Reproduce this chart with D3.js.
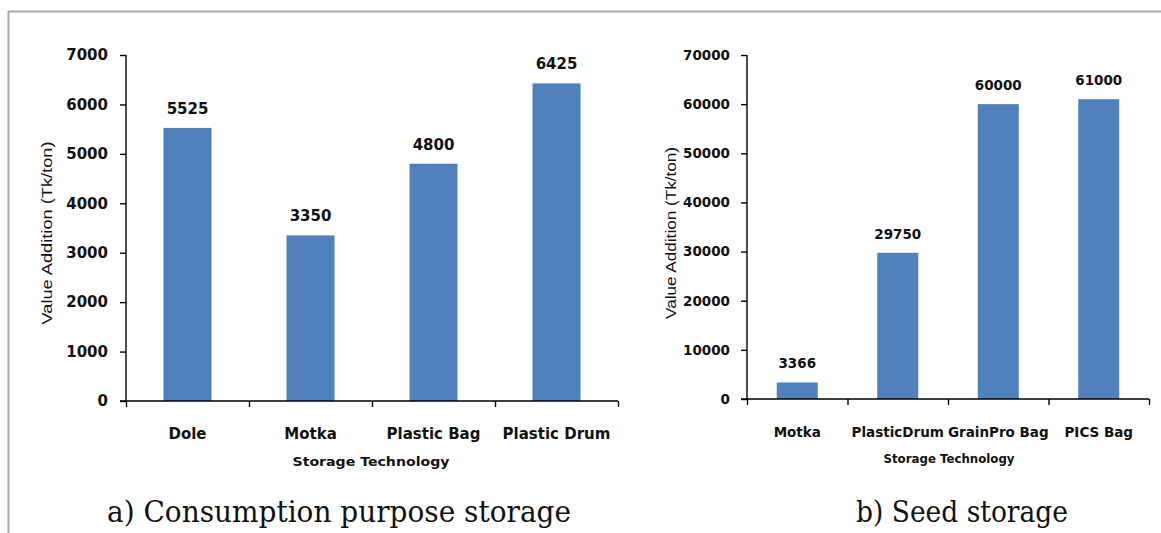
<!DOCTYPE html>
<html>
<head>
<meta charset="utf-8">
<script src="https://cdn.jsdelivr.net/npm/d3@7"></script>
<style>
  html, body { margin: 0; padding: 0; background: #fff; }
  svg { display: block; }
</style>
</head>
<body>
<svg id="chart" width="1161" height="533"></svg>
<script>
// ---- Data ----
const consumptionCategories = ["Dole", "Motka", "Plastic Bag", "Plastic Drum"];
const consumptionValues = [5525, 3350, 4800, 6425];
const consumptionTicks = [0, 1000, 2000, 3000, 4000, 5000, 6000, 7000];

const seedCategories = ["Motka", "PlasticDrum", "GrainPro Bag", "PICS Bag"];
const seedValues = [3366, 29750, 60000, 61000];
const seedTicks = [0, 10000, 20000, 30000, 40000, 50000, 60000, 70000];

const yTitle = "Value Addition (Tk/ton)";
const xTitle = "Storage Technology";
const captions = ["a) Consumption purpose storage", "b) Seed storage"];

const svg = d3.select("#chart");
const BAR = "#4F81BD";

// frame lines
svg.append("line").attr("x1", 8).attr("x2", 1161).attr("y1", 11.5).attr("y2", 11.5)
  .attr("stroke", "#aaaaaa").attr("stroke-width", 2);
svg.append("line").attr("x1", 8.5).attr("x2", 8.5).attr("y1", 11).attr("y2", 533)
  .attr("stroke", "#aaaaaa").attr("stroke-width", 2);

function drawPanel(cfg) {
  const g = svg.append("g");
  const x = d3.scaleBand().domain(cfg.categories).range([cfg.x0, cfg.x1]).paddingInner(0).paddingOuter(0);
  const xb = d3.scaleLinear().domain([0, cfg.categories.length]).range([cfg.x0, cfg.x1]);
  const y = d3.scaleLinear().domain([0, d3.max(cfg.ticks)]).range([cfg.y0, cfg.y1]);
  const font = "'DejaVu Sans', sans-serif";

  // bars
  g.selectAll("rect.bar").data(cfg.values).join("rect")
    .attr("class", "bar")
    .attr("x", (d, i) => x(cfg.categories[i]) + (x.bandwidth() - cfg.barW) / 2)
    .attr("width", cfg.barW)
    .attr("y", d => y(d))
    .attr("height", d => y(0) - y(d))
    .attr("fill", BAR);

  // data labels
  g.selectAll("text.val").data(cfg.values).join("text")
    .attr("class", "val")
    .attr("x", (d, i) => x(cfg.categories[i]) + x.bandwidth() / 2)
    .attr("y", d => y(d) - cfg.labelGap)
    .attr("text-anchor", "middle")
    .attr("font-family", font).attr("font-weight", "bold")
    .attr("font-size", cfg.fs).attr("fill", "#111")
    .text(d => d);

  // y axis
  const ya = g.append("g").attr("transform", `translate(${cfg.x0},0)`)
    .call(d3.axisLeft(y).tickValues(cfg.ticks).tickSize(6).tickPadding(cfg.tickPad).tickFormat(d3.format("d")));
  ya.select(".domain").attr("stroke", "#000").attr("stroke-width", 1.4).attr("d", `M0,${cfg.y1}V${cfg.y0}`);
  ya.selectAll(".tick line").attr("stroke", "#000").attr("stroke-width", 1.4);
  ya.selectAll(".tick text").attr("font-family", font).attr("font-weight", "bold")
    .attr("font-size", cfg.fs).attr("fill", "#111");

  // x axis (boundary ticks)
  const xa = g.append("g").attr("transform", `translate(0,${cfg.y0})`)
    .call(d3.axisBottom(xb).tickValues(d3.range(cfg.categories.length + 1)).tickSize(6).tickFormat(""));
  xa.select(".domain").attr("stroke", "#000").attr("stroke-width", 1.4).attr("d", `M${cfg.x0 - 6},0H${cfg.x1}`);
  xa.selectAll(".tick line").attr("stroke", "#000").attr("stroke-width", 1.4);

  // category labels
  g.selectAll("text.cat").data(cfg.categories).join("text")
    .attr("class", "cat")
    .attr("x", d => x(d) + x.bandwidth() / 2)
    .attr("y", cfg.catY)
    .attr("text-anchor", "middle")
    .attr("font-family", font).attr("font-weight", "bold")
    .attr("font-size", cfg.fs).attr("fill", "#111")
    .text(d => d);

  // x title
  g.append("text")
    .attr("x", cfg.xTitleX).attr("y", cfg.xTitleY)
    .attr("text-anchor", "middle")
    .attr("font-family", font).attr("font-weight", "bold")
    .attr("font-size", cfg.xtfs).attr("fill", "#111")
    .attr("textLength", cfg.xTitleLen).attr("lengthAdjust", "spacingAndGlyphs")
    .text(xTitle);

  // y title
  g.append("text")
    .attr("transform", `translate(${cfg.yTitleX},${cfg.yTitleY}) rotate(-90)`)
    .attr("text-anchor", "middle")
    .attr("font-family", "'Liberation Sans', Arial, sans-serif")
    .attr("font-size", 15.5).attr("fill", "#111")
    .attr("textLength", cfg.yTitleLen).attr("lengthAdjust", "spacingAndGlyphs")
    .text(yTitle);

  // caption
  svg.append("text")
    .attr("x", cfg.capX).attr("y", 522)
    .attr("text-anchor", "middle")
    .attr("font-family", "'DejaVu Serif', 'Liberation Serif', serif")
    .attr("font-size", 29).attr("fill", "#111")
    .attr("textLength", cfg.capLen).attr("lengthAdjust", "spacingAndGlyphs")
    .text(cfg.caption);
}

drawPanel({
  categories: consumptionCategories, values: consumptionValues, ticks: consumptionTicks,
  x0: 126, x1: 618, y0: 401, y1: 55, barW: 48, fs: 15, tickPad: 12, labelGap: 14,
  catY: 439, xTitleX: 371, xTitleY: 466, xtfs: 13, xTitleLen: 157,
  yTitleX: 52, yTitleY: 233, yTitleLen: 183,
  capX: 339, capLen: 464, caption: captions[0]
});

drawPanel({
  categories: seedCategories, values: seedValues, ticks: seedTicks,
  x0: 747, x1: 1149, y0: 399, y1: 55, barW: 41, fs: 13.5, tickPad: 11, labelGap: 14,
  catY: 437, xTitleX: 949, xTitleY: 463, xtfs: 12, xTitleLen: 131,
  yTitleX: 676, yTitleY: 233, yTitleLen: 172,
  capX: 962, capLen: 212, caption: captions[1]
});
</script>
</body>
</html>
